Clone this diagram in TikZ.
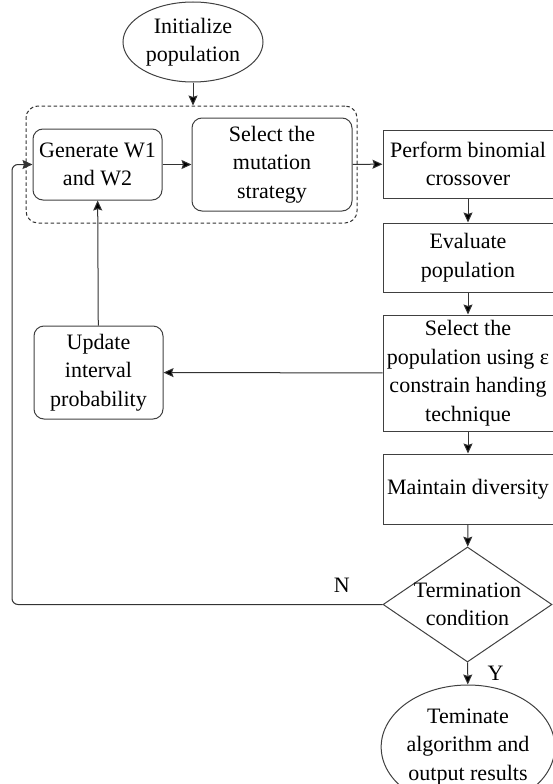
\documentclass[tikz,border=0pt]{standalone}
\usepackage{fontspec}
\setmainfont{Liberation Serif}
\usetikzlibrary{shapes.geometric,arrows.meta}

\begin{document}
\begin{tikzpicture}[x=1pt, y=-1pt, font=\fontsize{22}{28.5}\selectfont]

      \tikzset{box/.style={draw=black!75, line width=1pt, align=center, inner sep=0pt},
               rbox/.style={box, rounded corners=10pt},
               oval/.style={box, ellipse},
               decision/.style={box, diamond},
               group/.style={draw=black!80, line width=1pt, dash pattern=on 3.5pt off 2.5pt, rounded corners=12pt, inner sep=0pt},
               flow/.style={draw=black!80, line width=1pt, -{Stealth[length=10pt, width=9pt, inset=1.5pt]}}}
      \useasboundingbox (0,0) rectangle (552,784);
%% Nodes
      	\node[oval, minimum width=140pt, minimum height=80pt] (init) at (193,42) {Initialize\\population};
      	\node[group, minimum width=331pt, minimum height=117pt] (grp) at (191.5,164.5) {};
      	\node[rbox, minimum width=129pt, minimum height=71pt] (gen) at (97.5,164.5) {Generate W1\\and W2};
      	\node[rbox, minimum width=160pt, minimum height=93pt] (mut) at (272,164.5) {Select the\\mutation\\strategy};
      	\node[box, minimum width=170pt, minimum height=68pt] (cross) at (468,164) {Perform binomial\\crossover};
      	\node[box, minimum width=170pt, minimum height=69pt] (eval) at (468,257.5) {Evaluate\\population};
      	\node[box, minimum width=170pt, minimum height=116pt] (sel) at (468,373) {Select the\\population using ε\\constrain handing\\technique};
      	\node[box, minimum width=170pt, minimum height=70pt] (div) at (468,489) {Maintain diversity};
      	\node[decision, minimum width=169pt, minimum height=115pt] (term) at (467.5,604.5) {};
      	\node[align=center] at (term) {Termination\\condition};
      	\node[oval, minimum width=170pt, minimum height=124pt] (stop) at (468,747) {Teminate\\algorithm and\\output results};
      	\node[rbox, minimum width=129pt, minimum height=93pt] (upd) at (98.5,372.5) {Update\\interval\\probability};
      	\coordinate (lb) at (12,604.5);
      	\coordinate (lt) at (12,164.5);
%Edges
		\path[flow] (init) edge (init |- grp.north);
		\path[flow] (gen) edge (mut);
		\path[flow] (mut) edge (cross);
		\path[flow] (cross) edge (eval);
		\path[flow] (eval) edge (sel);
		\path[flow] (sel) edge (div);
		\path[flow] (div) edge (term);
		\path[flow] (term) edge node[pos=0.5, right=16pt] {Y} (stop);
		\path[flow] (sel) edge (upd);
		\path[flow] (upd) edge (gen);
		\draw[flow, rounded corners=6pt] (term.west) -- node[pos=0.11, above=8pt] {N} (lb) -- (lt) -- (gen.west);

	\end{tikzpicture}
\end{document}
